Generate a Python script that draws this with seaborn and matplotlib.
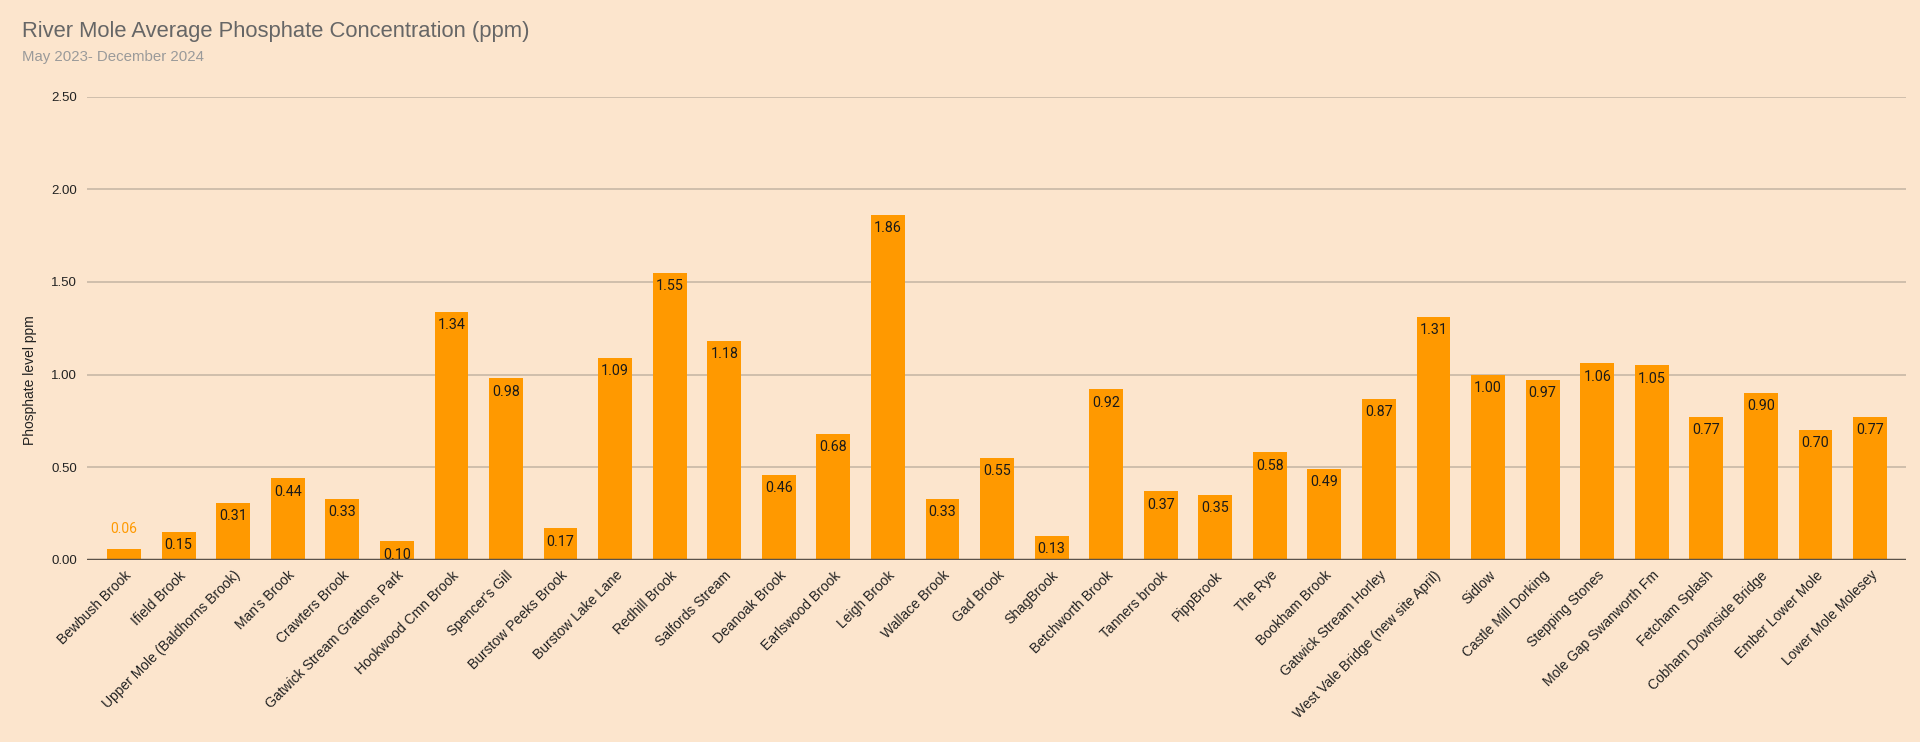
import matplotlib
matplotlib.use('Agg')
import matplotlib.pyplot as plt
import seaborn as sns
import pandas as pd

sites = ['Bewbush Brook', 'Ifield Brook', 'Upper Mole (Baldhorns Brook)', "Man's Brook",
         'Crawters Brook', 'Gatwick Stream Grattons Park', 'Hookwood Cmn Brook', "Spencer's Gill",
         'Burstow Peeks Brook', 'Burstow Lake Lane', 'Redhill Brook', 'Salfords Stream',
         'Deanoak Brook', 'Earlswood Brook', 'Leigh Brook', 'Wallace Brook', 'Gad Brook',
         'ShagBrook', 'Betchworth Brook', 'Tanners brook', 'PippBrook', 'The Rye',
         'Bookham Brook', 'Gatwick Stream Horley', 'West Vale Bridge (new site April)',
         'Sidlow', 'Castle Mill Dorking', 'Stepping Stones', 'Mole Gap Swanworth Fm',
         'Fetcham Splash', 'Cobham Downside Bridge', 'Ember Lower Mole', 'Lower Mole Molesey']
phosphate = [0.06, 0.15, 0.31, 0.44, 0.33, 0.10, 1.34, 0.98, 0.17, 1.09, 1.55, 1.18,
             0.46, 0.68, 1.86, 0.33, 0.55, 0.13, 0.92, 0.37, 0.35, 0.58, 0.49, 0.87,
             1.31, 1.00, 0.97, 1.06, 1.05, 0.77, 0.90, 0.70, 0.77]
yticks = [0.0, 0.5, 1.0, 1.5, 2.0, 2.5]

df = pd.DataFrame({'site': sites, 'ppm': phosphate})

bg = '#fce5cd'
bar_col = '#ff9900'

sns.set_style('white')
plt.rcParams['font.family'] = ['Liberation Sans', 'DejaVu Sans']

fig = plt.figure(figsize=(19.2, 7.42), dpi=100, facecolor=bg)
ax = fig.add_axes([87 / 1920, 1 - 560 / 742, (1906 - 87) / 1920, (560 - 96.5) / 742])
ax.set_facecolor(bg)

sns.barplot(data=df, x='site', y='ppm', color=bar_col, width=0.62, saturation=1,
            edgecolor=bar_col, linewidth=0, ax=ax, zorder=3)

ax.set_ylim(0, 2.5)
ax.set_xlim(-0.68, len(sites) - 1 + 0.66)
ax.set_yticks(yticks)
ax.set_yticklabels([f'{t:.2f}' for t in yticks], fontsize=9.5, color='#222222')
ax.yaxis.grid(True, color='#c8b8a6', linewidth=1.2, zorder=0)
ax.axhline(0, color='#5b5249', linewidth=2.5, zorder=4)
for s in ax.spines.values():
    s.set_visible(False)
ax.tick_params(axis='both', length=0)
ax.tick_params(axis='y', pad=7)
plt.setp(ax.get_xticklabels(), rotation=45, ha='right', rotation_mode='anchor',
         fontsize=10, color='#222222')
ax.tick_params(axis='x', pad=6)
ax.set_xlabel('')
ax.set_ylabel('Phosphate level ppm', fontsize=10, color='#222222')
ax.yaxis.set_label_coords(-0.0275, 0.388)

# value labels
for patch, v in zip(ax.patches, phosphate):
    cx = patch.get_x() + patch.get_width() / 2
    top = patch.get_height()
    if v < 0.1:
        ax.annotate(f'{v:.2f}', (cx, top), xytext=(0, 14), textcoords='offset points',
                    ha='center', va='center', fontsize=10, color=bar_col,
                    family=['Roboto', 'DejaVu Sans'], zorder=5)
    else:
        ax.annotate(f'{v:.2f}', (cx, top), xytext=(0, -9.5), textcoords='offset points',
                    ha='center', va='center', fontsize=10.3, color='#1a1a1a',
                    family=['Roboto', 'DejaVu Sans'], zorder=5)

fig.text(22 / 1920, 1 - 31 / 742, 'River Mole Average Phosphate Concentration (ppm)',
         fontsize=15.8, color='#666666', va='center', ha='left')
fig.text(22 / 1920, 1 - 57 / 742, 'May 2023- December 2024',
         fontsize=10.8, color='#9a9a9a', va='center', ha='left')

fig.savefig('out.png', dpi=100, facecolor=bg)
